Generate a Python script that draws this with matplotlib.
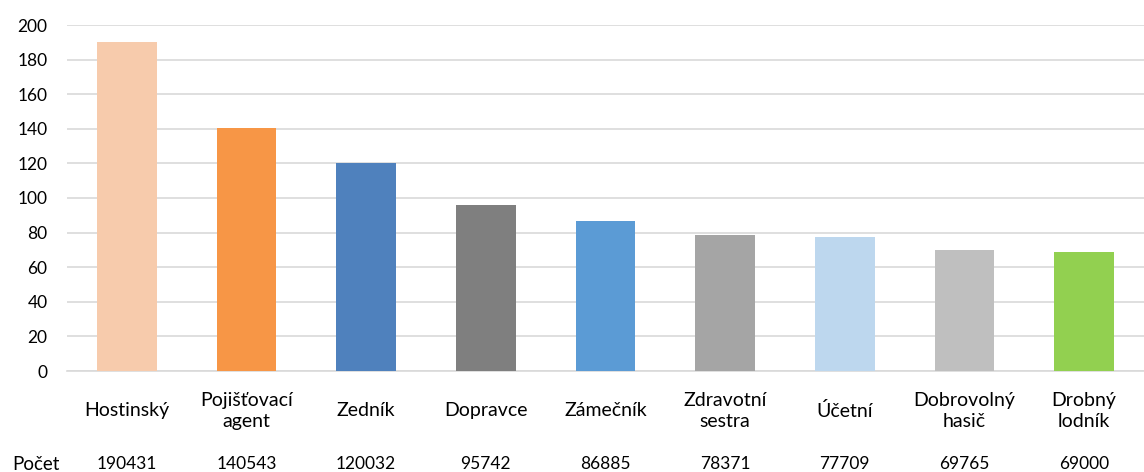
import matplotlib
matplotlib.use("Agg")
import matplotlib.pyplot as plt

categories = ["Hostinský", "Pojišťovací\nagent", "Zedník", "Dopravce", "Zámečník",
              "Zdravotní\nsestra", "Účetní", "Dobrovolný\nhasič", "Drobný\nlodník"]
counts = [190431, 140543, 120032, 95742, 86885, 78371, 77709, 69765, 69000]
colors = ["#F7CBAC", "#F79646", "#4F81BD", "#7F7F7F", "#5B9BD5",
          "#A5A5A5", "#BDD7EE", "#BFBFBF", "#92D050"]
yticks = [0, 20, 40, 60, 80, 100, 120, 140, 160, 180, 200]
row_label = "Počet"

plt.rcParams['font.family'] = ['Lato', 'DejaVu Sans']

fig = plt.figure(figsize=(11.44, 4.72), dpi=100)
ax = fig.add_axes([67/1144, 1 - 371/472, (1144-67)/1144, (371-25)/472])

heights = [c / 1000 for c in counts]
x = list(range(len(categories)))
ax.bar(x, heights, width=0.5, color=colors, zorder=3)

ax.set_xlim(-0.5, len(categories) - 0.5)
ax.set_ylim(0, 200)
ax.set_yticks(yticks)
ax.set_yticklabels([str(t) for t in yticks], fontsize=12.5, color="#000000")
ax.yaxis.grid(True, color="#D9D9D9", linewidth=1.2, zorder=0)
ax.tick_params(axis='y', length=0, pad=14)
ax.set_xticks([])
for s in ["top", "right", "left"]:
    ax.spines[s].set_visible(False)
ax.spines["bottom"].set_color("#D9D9D9")
ax.spines["bottom"].set_linewidth(1.2)

trans = ax.get_xaxis_transform()
for i, cat in enumerate(categories):
    ax.text(i, -0.115, cat, transform=trans, ha="center", va="center",
            fontsize=14, linespacing=1.3)
    ax.text(i, -0.27, str(counts[i]), transform=trans, ha="center", va="center",
            fontsize=12.5)
fig.text(12/1144, 1 - 465/472, row_label, ha="left", va="center", fontsize=13.5)

fig.savefig("out.png", dpi=100)
